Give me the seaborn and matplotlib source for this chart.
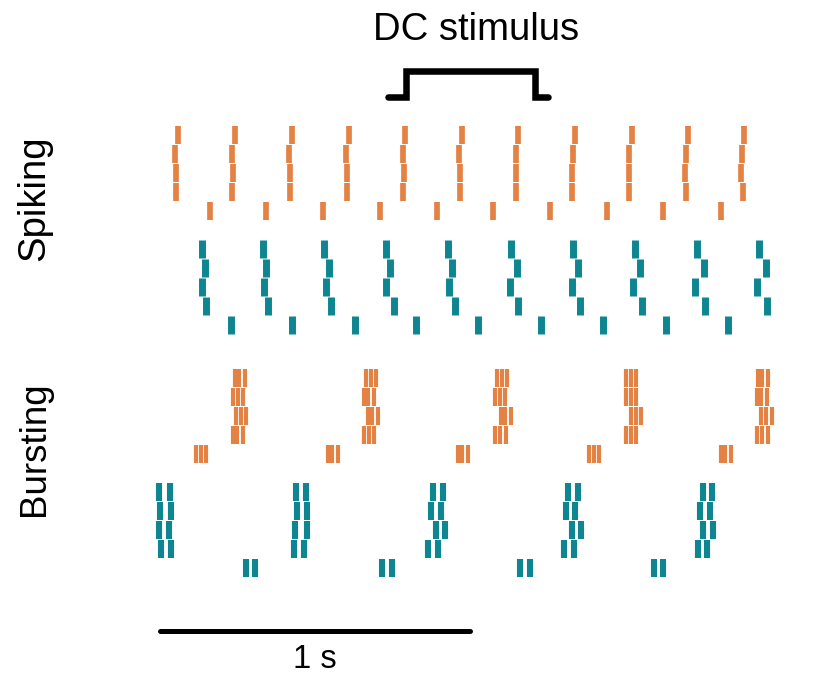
import numpy as np
import pandas as pd
import matplotlib
matplotlib.use("Agg")
import matplotlib.pyplot as plt
import seaborn as sns

# spike times (s), one list per neuron
spiking_orange = [
    [0.057, 0.242, 0.425, 0.609, 0.789, 0.973, 1.156, 1.339, 1.522, 1.702, 1.884],
    [0.048, 0.231, 0.416, 0.600, 0.783, 0.965, 1.147, 1.331, 1.514, 1.696, 1.878],
    [0.053, 0.235, 0.420, 0.603, 0.786, 0.968, 1.148, 1.330, 1.513, 1.694, 1.874],
    [0.052, 0.233, 0.419, 0.603, 0.784, 0.967, 1.148, 1.330, 1.513, 1.696, 1.881],
    [0.160, 0.343, 0.526, 0.710, 0.893, 1.075, 1.258, 1.441, 1.624, 1.809],
]
spiking_teal = [
    [0.136, 0.331, 0.530, 0.730, 0.930, 1.132, 1.333, 1.532, 1.732, 1.933],
    [0.144, 0.343, 0.545, 0.743, 0.943, 1.152, 1.348, 1.547, 1.754, 1.955],
    [0.135, 0.336, 0.535, 0.729, 0.931, 1.128, 1.330, 1.526, 1.725, 1.927],
    [0.147, 0.349, 0.551, 0.754, 0.952, 1.154, 1.356, 1.554, 1.757, 1.959],
    [0.228, 0.427, 0.628, 0.825, 1.027, 1.228, 1.429, 1.633, 1.833],
]
bursting_orange = [
    [0.241, 0.255, 0.275, 0.665, 0.681, 0.698, 1.087, 1.102, 1.119,
     1.504, 1.519, 1.536, 1.928, 1.943, 1.961],
    [0.235, 0.251, 0.269, 0.657, 0.672, 0.690, 1.081, 1.096, 1.114,
     1.503, 1.518, 1.536, 1.925, 1.940, 1.958],
    [0.245, 0.260, 0.278, 0.670, 0.685, 0.703, 1.099, 1.114, 1.131,
     1.519, 1.535, 1.553, 1.940, 1.955, 1.973],
    [0.235, 0.249, 0.269, 0.659, 0.674, 0.691, 1.082, 1.097, 1.115,
     1.504, 1.519, 1.536, 1.926, 1.941, 1.960],
    [0.117, 0.132, 0.149, 0.541, 0.556, 0.573, 0.960, 0.975, 0.994,
     1.384, 1.399, 1.417, 1.809, 1.824, 1.842],
]
bursting_teal = [
    [-0.002, 0.031, 0.439, 0.470, 0.882, 0.913, 1.317, 1.347, 1.750, 1.780],
    [0.001, 0.035, 0.442, 0.474, 0.875, 0.907, 1.310, 1.340, 1.743, 1.774],
    [-0.003, 0.029, 0.434, 0.473, 0.889, 0.919, 1.329, 1.358, 1.753, 1.783],
    [0.003, 0.034, 0.433, 0.465, 0.865, 0.897, 1.304, 1.335, 1.735, 1.766],
    [0.277, 0.308, 0.717, 0.748, 1.161, 1.193, 1.593, 1.623],
]

group_names = ["spiking_orange", "spiking_teal", "bursting_orange", "bursting_teal"]
group_trains = [spiking_orange, spiking_teal, bursting_orange, bursting_teal]
group_offsets = [0, 6, 12.8, 18.8]
group_colors = ["#E37B3A", "#00808C", "#E37B3A", "#00808C"]
group_widths = [4.1, 5.0, 3.0, 4.4]

# DC stimulus trace
stim_t = [0.736, 0.793, 0.793, 1.209, 1.209, 1.253]
stim_on = [0, 0, 1, 1, 0, 0]

rows = []
for name, trains, off in zip(group_names, group_trains, group_offsets):
    for i, train in enumerate(trains):
        for t in train:
            rows.append({"t": t, "row": off + i, "group": name})
df = pd.DataFrame(rows)

sns.set_style("white")
plt.rcParams["font.family"] = ["Liberation Sans", "DejaVu Sans"]
plt.rcParams["text.color"] = "black"

fig = plt.figure(figsize=(8.3, 6.76), dpi=100)
ax = fig.add_axes([0, 0, 1, 1])

for name, col, lw in zip(group_names, group_colors, group_widths):
    sub = df[df["group"] == name]
    sns.scatterplot(data=sub, x="t", y="row", marker="|", s=159,
                    color=col, linewidth=lw, alpha=0.95, ax=ax, legend=False)

# stimulus step
low, high = -2.02, -3.38
stim_y = [low + v * (high - low) for v in stim_on]
sns.lineplot(x=stim_t, y=stim_y, sort=False, estimator=None,
             color="black", lw=4.7, ax=ax, solid_joinstyle="miter")
ax.text(1.021, -5.0, "DC stimulus", ha="center", va="baseline", fontsize=27.5)

# scale bar
sns.lineplot(x=[0, 1], y=[26.1, 26.1], color="black", lw=3.6,
             solid_capstyle="round", ax=ax)
ax.text(0.5, 28.05, "1 s", ha="center", va="baseline", fontsize=23.5)

ax.text(-0.405, 3.32, "Spiking", rotation=90, ha="center", va="center", fontsize=27.5)
ax.text(-0.405, 16.53, "Bursting", rotation=90, ha="center", va="center", fontsize=26.5)

ax.set_xlim(-160 / 310, (830 - 160) / 310)
ax.set_ylim((676 - 135) / 19, -135 / 19)
ax.axis("off")

fig.savefig("out.png", dpi=100)
